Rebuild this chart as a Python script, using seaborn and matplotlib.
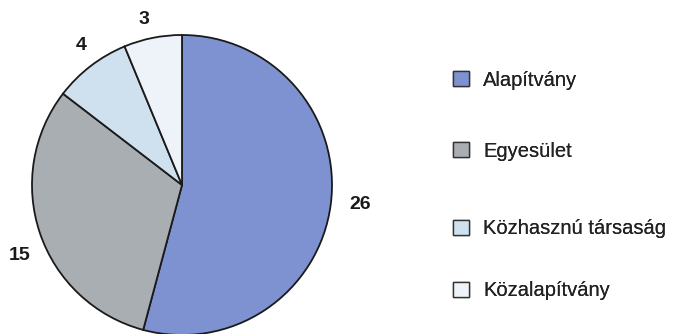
import matplotlib
matplotlib.use("Agg")
import matplotlib.pyplot as plt
import seaborn as sns
from matplotlib.patches import Patch

sns.set_theme(style="white")
plt.rcParams['font.family'] = ['Liberation Sans', 'DejaVu Sans']

categories = ["Alapítvány", "Egyesület", "Közhasznú társaság", "Közalapítvány"]
values = [26, 15, 4, 3]
colors = ["#7E92D2", "#A9AEB3", "#CFE0EF", "#EDF3F9"]

W, H = 673, 334
fig = plt.figure(figsize=(W / 100, H / 100), dpi=100)
fig.patch.set_facecolor("white")
cx, cy, r = 182, 185, 150
ax = fig.add_axes([(cx - r) / W, (H - cy - r) / H, 2 * r / W, 2 * r / H])
wedges, texts = ax.pie(values, colors=colors, startangle=90, counterclock=False,
                       labels=[str(v) for v in values], labeldistance=1.17,
                       wedgeprops=dict(edgecolor="#1a1a1a", linewidth=1.3),
                       textprops=dict(fontsize=14, fontweight="bold", color="#1a1a1a"))
# label placement (in pie-radius units)
label_pos = [(1.187, -0.133), (-1.08, -0.467), (-0.673, 0.927), (-0.253, 1.10)]
for t, p in zip(texts, label_pos):
    t.set_position(p)
    t.set_horizontalalignment("center")
    t.set_verticalalignment("center")
ax.set_xlim(-1, 1)
ax.set_ylim(-1, 1)
ax.set_aspect("equal")
ax.axis("off")

legend_rows = [80, 151, 229, 291]
for c, lab, ry in zip(colors, categories, legend_rows):
    h = Patch(facecolor=c, edgecolor="#333333", linewidth=1.0)
    leg = fig.legend([h], [lab], loc="center left", bbox_to_anchor=(453 / W, 1 - ry / H),
                     frameon=False, fontsize=14.5, handlelength=0.8, handleheight=0.8,
                     handletextpad=0.7, borderpad=0, borderaxespad=0, labelcolor="#222222")
    fig.add_artist(leg)

fig.savefig("out.png", dpi=100, facecolor="white")
